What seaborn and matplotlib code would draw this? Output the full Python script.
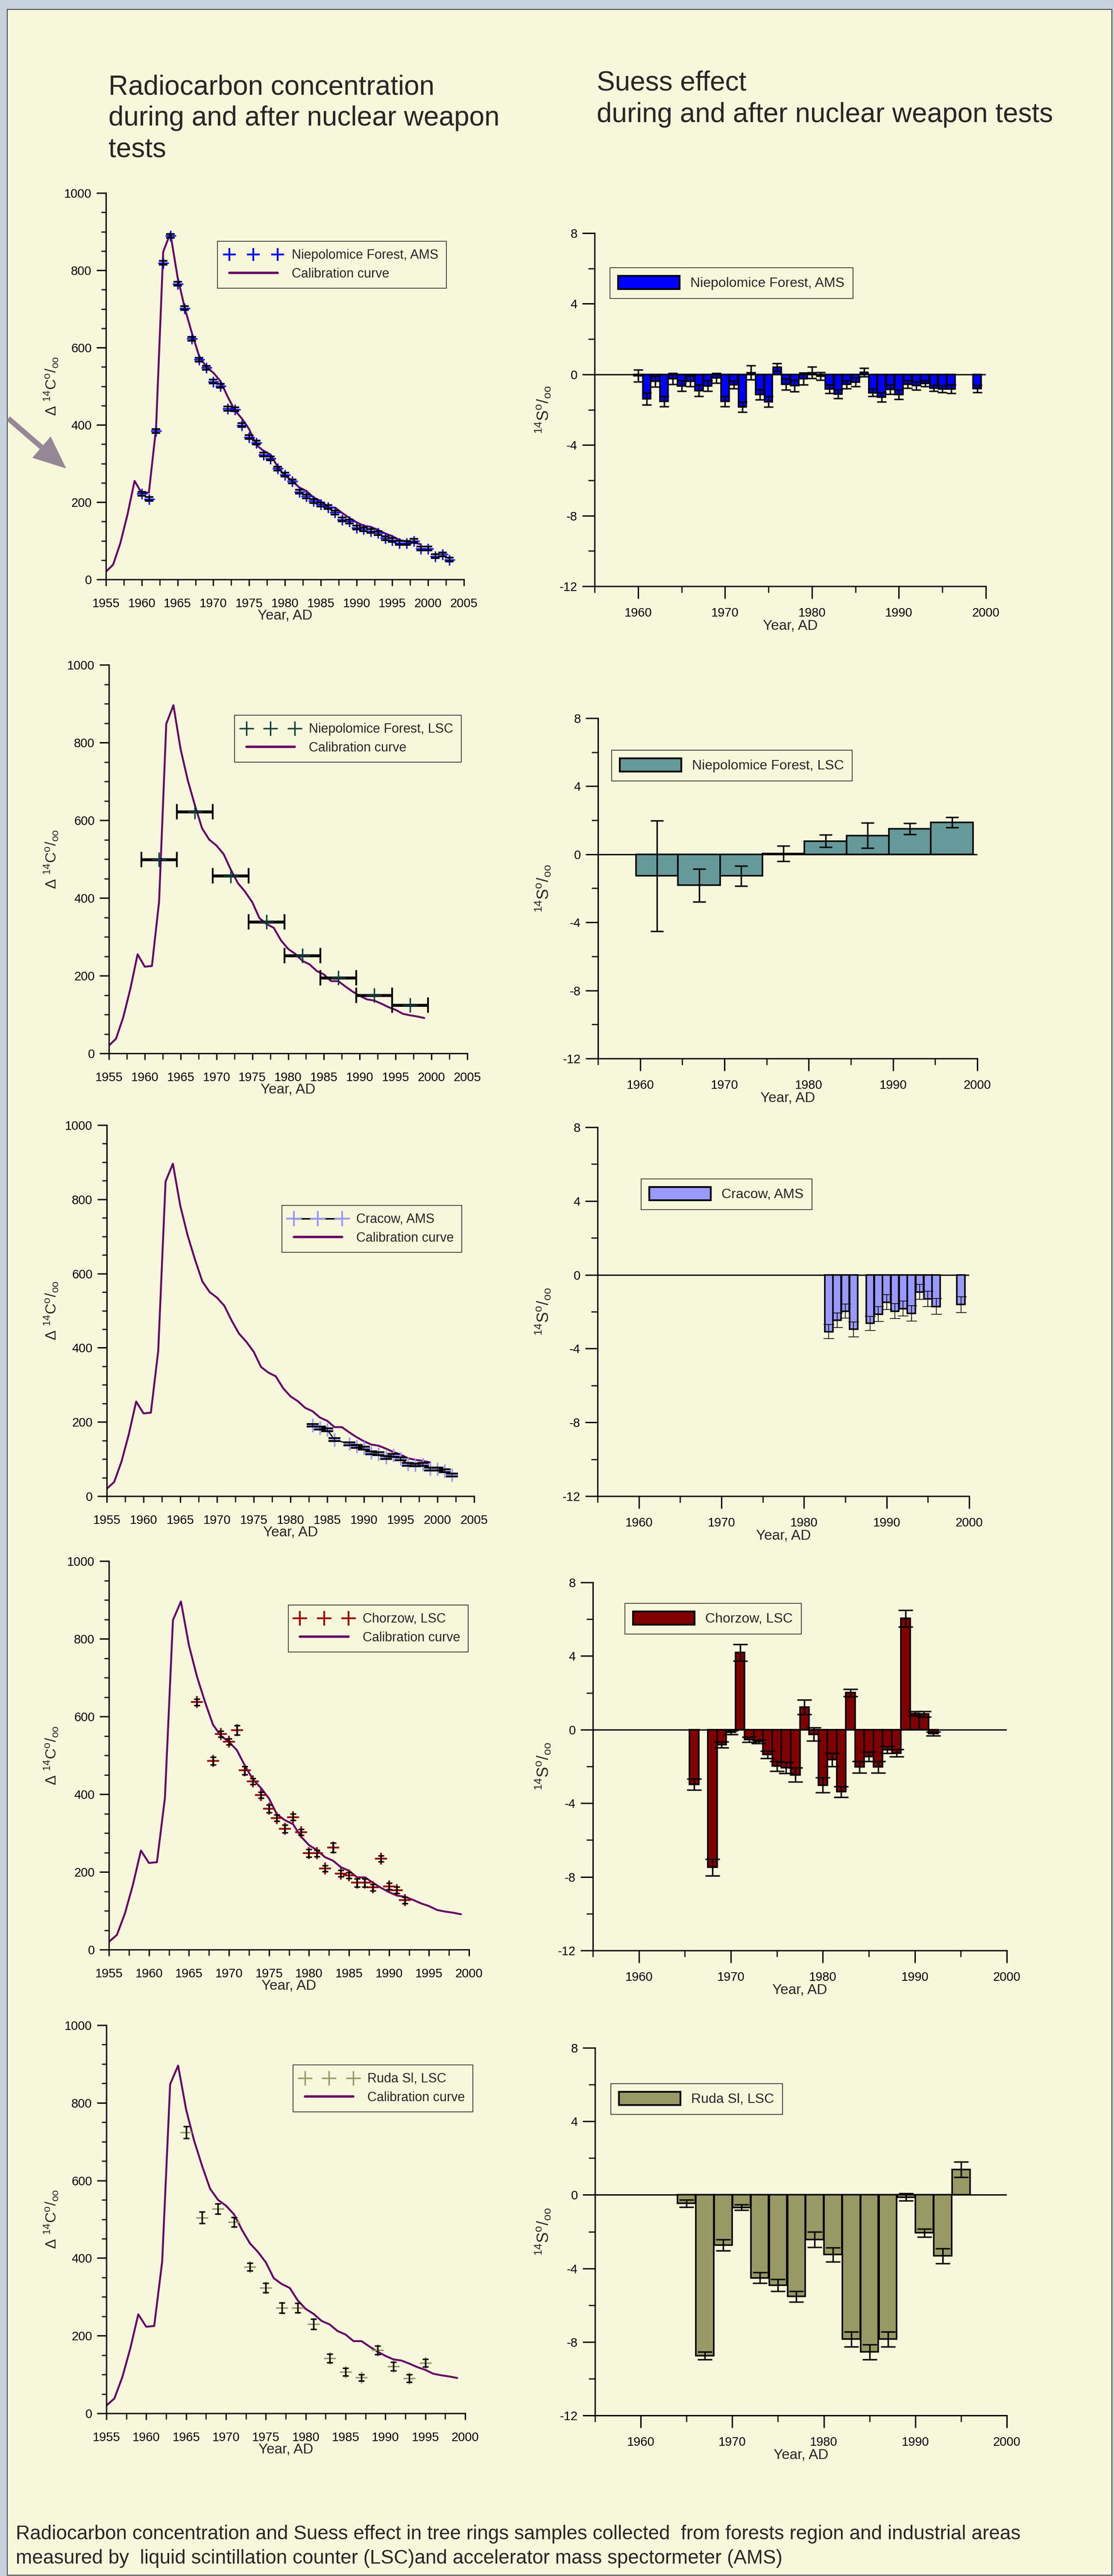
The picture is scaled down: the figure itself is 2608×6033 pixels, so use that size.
import seaborn as sns
import pandas as pd
import matplotlib
matplotlib.use('Agg')
import matplotlib.pyplot as plt
from matplotlib.lines import Line2D
from matplotlib.patches import Patch, Rectangle, FancyArrowPatch
from matplotlib.ticker import MultipleLocator, FormatStrFormatter

sns.set_style('ticks')
plt.rcParams['font.family'] = ['Liberation Sans', 'DejaVu Sans']
plt.rcParams['mathtext.fontset'] = 'custom'
plt.rcParams['mathtext.rm'] = 'Liberation Sans'
plt.rcParams['mathtext.it'] = 'Liberation Sans:italic'
plt.rcParams['mathtext.bf'] = 'Liberation Sans:bold'
plt.rcParams['axes.unicode_minus'] = False

# calibration curve (same on all left panels)
cal_years = list(range(1955, 2000))
cal_d14c = [20, 38, 93, 167, 255, 223, 225, 391, 848, 896,
            783, 703, 638, 579, 550, 535, 513, 473, 438, 416,
            389, 348, 333, 323, 291, 269, 256, 238, 229, 212,
            203, 186, 186, 172, 159, 148, 139, 136, 128, 119,
            112, 102, 98, 95, 91]

# Niepolomice Forest, AMS
ams_years = list(range(1960, 2004))
ams_d14c = [222, 208, 384, 819, 889, 765, 702, 623, 569, 548,
            512, 501, 442, 440, 399, 368, 354, 323, 313, 287,
            271, 254, 227, 215, 203, 194, 187, 173, 155, 150,
            134, 130, 125, 120, 107, 102, 94, 94, 100, 80,
            80, 60, 65, 51]
ams_err = [5, 5, 5, 5, 5, 5, 5, 5, 5, 5,
           5, 5, 5, 5, 5, 5, 5, 5, 5, 5,
           5, 5, 5, 5, 5, 5, 5, 5, 5, 5,
           5, 5, 5, 5, 5, 5, 5, 5, 5, 5,
           5, 5, 5, 5]
ams_s_years = list(range(1960, 1997)) + [1999]
ams_suess = [-0.08, -1.38, -0.40, -1.52, -0.24, -0.65, -0.38, -0.92, -0.65, -0.21,
             -1.52, -0.58, -1.84, 0.10, -1.14, -1.55, 0.40, -0.56, -0.64, -0.25,
             0.10, -0.10, -0.82, -1.11, -0.57, -0.43, 0.11, -1.04, -1.29, -0.85,
             -1.14, -0.56, -0.64, -0.51, -0.79, -0.82, -0.82, -0.81]
ams_suess_err = [0.33, 0.33, 0.31, 0.29, 0.31, 0.31, 0.31, 0.33, 0.31, 0.28,
                 0.29, 0.22, 0.29, 0.40, 0.28, 0.30, 0.22, 0.31, 0.33, 0.33,
                 0.33, 0.21, 0.24, 0.24, 0.23, 0.26, 0.24, 0.21, 0.26, 0.26,
                 0.27, 0.21, 0.23, 0.17, 0.17, 0.19, 0.24, 0.21]

# Niepolomice Forest, LSC (5-year samples)
lsc_years = [1962, 1967, 1972, 1977, 1982, 1987, 1992, 1997]
lsc_d14c = [499, 622, 457, 339, 252, 194, 150, 124]
lsc_span = [2.5, 2.5, 2.5, 2.5, 2.5, 2.5, 2.5, 2.5]
lsc_suess = [-1.27, -1.82, -1.27, 0.04, 0.78, 1.10, 1.50, 1.88]
lsc_suess_err = [3.25, 0.97, 0.58, 0.45, 0.36, 0.74, 0.32, 0.30]

# Cracow, AMS
cr_years = [1983, 1984, 1985, 1986, 1988, 1989, 1990, 1991, 1992, 1993,
            1994, 1995, 1996, 1997, 1998, 1999, 2000, 2001, 2002]
cr_d14c = [191, 184, 179, 152, 141, 134, 130, 117, 114, 104,
           110, 101, 86, 84, 86, 73, 73, 68, 57]
cr_err = [18, 18, 18, 18, 18, 18, 18, 18, 18, 18,
          18, 18, 18, 18, 18, 18, 18, 18, 18]
cr_s_years = [1983, 1984, 1985, 1986, 1988, 1989, 1990, 1991, 1992, 1993, 1994, 1995, 1996, 1999]
cr_suess = [-3.08, -2.46, -1.97, -2.96, -2.63, -2.13, -1.48, -1.97, -1.83, -2.09, -0.93, -1.30, -1.72, -1.61]
cr_suess_err = [0.38, 0.39, 0.38, 0.40, 0.38, 0.41, 0.41, 0.40, 0.40, 0.41, 0.40, 0.42, 0.43, 0.43]

# Chorzow, LSC
ch_years = [1966, 1968, 1969, 1970, 1971, 1972, 1973, 1974, 1975, 1976,
            1977, 1978, 1979, 1980, 1981, 1982, 1983, 1984, 1985, 1986,
            1987, 1988, 1989, 1990, 1991, 1992]
ch_d14c = [637, 486, 555, 535, 565, 461, 433, 398, 363, 339,
           311, 341, 302, 248, 248, 209, 263, 196, 191, 172,
           172, 160, 234, 163, 153, 127]
ch_err = [8, 10, 8, 8, 12, 10, 8, 8, 10, 8,
          10, 8, 8, 10, 8, 8, 12, 8, 8, 10,
          10, 8, 8, 8, 8, 8]
ch_suess = [-2.98, -7.48, -0.82, -0.15, 4.19, -0.54, -0.65, -1.36, -1.98, -2.06,
            -2.46, 1.23, -0.25, -3.01, -1.64, -3.38, 2.01, -2.03, -1.46, -2.03,
            -1.09, -1.27, 6.04, 0.87, 0.85, -0.22]
ch_suess_err = [0.30, 0.45, 0.17, 0.10, 0.45, 0.14, 0.10, 0.20, 0.27, 0.30,
                0.38, 0.40, 0.35, 0.41, 0.36, 0.30, 0.20, 0.32, 0.25, 0.32,
                0.18, 0.20, 0.45, 0.12, 0.15, 0.10]

# Ruda Sl, LSC (2-year samples)
ru_years = [1965, 1967, 1969, 1971, 1973, 1975, 1977, 1979,
            1981, 1983, 1985, 1987, 1989, 1991, 1993, 1995]
ru_d14c = [724, 504, 527, 493, 377, 323, 272, 272, 230, 142, 107, 92, 163, 121, 90, 130]
ru_err = [15, 15, 13, 12, 10, 12, 13, 12, 13, 11, 10, 8, 11, 11, 10, 10]
ru_suess = [-0.46, -8.75, -2.73, -0.68, -4.51, -4.91, -5.53, -2.42,
            -3.25, -7.85, -8.55, -7.85, -0.12, -2.06, -3.32, 1.38]
ru_suess_err = [0.20, 0.20, 0.30, 0.15, 0.30, 0.32, 0.29, 0.42,
                0.39, 0.41, 0.41, 0.41, 0.20, 0.22, 0.41, 0.42]

W, H = 2608, 6033
CREAM = '#F7F7DB'
CAL = '#660066'
LW = 2.3

fig = plt.figure(figsize=(W / 100, H / 100), dpi=100)
fig.patch.set_facecolor('#C7D2DF')
fig.add_artist(Rectangle((17 / W, 1 - 6031 / H), (2603 - 17) / W, (6031 - 22) / H,
                         transform=fig.transFigure, facecolor=CREAM, edgecolor='#444444',
                         lw=1.5, zorder=-10))


def box(x0, x1, ytop, ybot):
    ax = fig.add_axes([x0 / W, 1 - ybot / H, (x1 - x0) / W, (ybot - ytop) / H])
    ax.set_facecolor('none')
    return ax


def legend_at(ax, handles, labels, x, y, fs, hl, hh=0.7):
    leg = ax.legend(handles, labels, loc='upper left', bbox_to_anchor=(x / W, 1 - y / H),
                    bbox_transform=fig.transFigure, fontsize=fs, numpoints=3,
                    handlelength=hl, handleheight=hh, frameon=True, fancybox=False,
                    edgecolor='#222222', facecolor=CREAM, framealpha=1,
                    borderpad=0.6, labelspacing=0.45, handletextpad=0.8, borderaxespad=0)
    leg.get_frame().set_linewidth(1.2)


def style_left(ax, pos, xmax):
    x0, x1, ytop, ybot = pos
    sns.despine(ax=ax)
    ax.set_xlim(1955, xmax)
    ax.set_ylim(0, 1000)
    ax.xaxis.set_major_locator(MultipleLocator(5))
    ax.xaxis.set_minor_locator(MultipleLocator(2.5))
    ax.yaxis.set_major_locator(MultipleLocator(200))
    ax.yaxis.set_minor_locator(MultipleLocator(50))
    ax.xaxis.set_major_formatter(FormatStrFormatter('%d'))
    for s in ['left', 'bottom']:
        ax.spines[s].set_linewidth(LW)
        ax.spines[s].set_color('black')
    ax.tick_params(axis='y', which='major', length=16, width=LW, pad=8, labelsize=21, colors='black')
    ax.tick_params(axis='y', which='minor', length=8, width=LW)
    ax.tick_params(axis='x', which='major', length=11, width=LW, pad=20, labelsize=21, colors='black')
    ax.tick_params(axis='x', which='minor', length=10, width=LW)
    ax.set_ylabel(r'$\Delta\ {}^{14}\mathrm{C}^{\mathrm{o}}/_{\mathrm{oo}}$', fontsize=25)
    ax.yaxis.label.set_verticalalignment('center')
    ax.yaxis.set_label_coords((120 - x0) / (x1 - x0), 0.5)
    ax.set_xlabel('Year, AD', fontsize=24)
    ax.xaxis.label.set_verticalalignment('center')
    ax.xaxis.set_label_coords(0.5, -85 / (ybot - ytop))


def style_right(ax, pos):
    x0, x1, ytop, ybot = pos
    sns.despine(ax=ax)
    ax.set_xlim(1955, 2000)
    ax.set_ylim(-12, 8)
    ax.xaxis.set_major_locator(MultipleLocator(10))
    ax.xaxis.set_minor_locator(MultipleLocator(5))
    ax.yaxis.set_major_locator(MultipleLocator(4))
    ax.yaxis.set_minor_locator(MultipleLocator(2))
    ax.xaxis.set_major_formatter(FormatStrFormatter('%d'))
    ax.yaxis.set_major_formatter(FormatStrFormatter('%d'))
    for s in ['left', 'bottom']:
        ax.spines[s].set_linewidth(LW)
        ax.spines[s].set_color('black')
    ax.tick_params(axis='both', which='major', length=21, width=LW, pad=8, labelsize=21, colors='black')
    ax.tick_params(axis='x', which='major', pad=14)
    ax.tick_params(axis='both', which='minor', length=11, width=LW)
    ax.axhline(0, color='black', lw=LW, zorder=1)
    ax.set_ylabel(r'${}^{14}\mathrm{S}^{\mathrm{o}}/_{\mathrm{oo}}$', fontsize=27)
    ax.yaxis.label.set_verticalalignment('center')
    ax.yaxis.set_label_coords((1271 - x0) / (x1 - x0), 0.5)
    ax.set_xlabel('Year, AD', fontsize=24)
    ax.xaxis.label.set_verticalalignment('center')
    ax.xaxis.set_label_coords(0.5, -93 / (ybot - ytop))


def suess_bars(ax, years, vals, errs, color, width, elw=2.5, cap=8):
    sns.barplot(x=years, y=vals, native_scale=True, color=color, saturation=1,
                edgecolor='black', linewidth=2.6, width=width, errorbar=None, ax=ax, zorder=2)
    ax.errorbar(years, vals, yerr=errs, fmt='none', ecolor='black', elinewidth=elw,
                capsize=cap, capthick=elw, zorder=3)


cal_handle = Line2D([], [], color=CAL, lw=4)

# ---------- row 1: Niepolomice Forest, AMS ----------
pos = (248, 1086, 452, 1357)
ax = box(*pos)
sns.lineplot(x=cal_years, y=cal_d14c, color=CAL, lw=3.2, ax=ax, zorder=2)
ax.plot(ams_years, ams_d14c, ls='none', marker='+', ms=18, mew=2.5, color='#0000FF', zorder=3)
ax.errorbar(ams_years, ams_d14c, yerr=ams_err, fmt='none', ecolor='black',
            elinewidth=2.5, capsize=7, capthick=3, zorder=4)
style_left(ax, pos, 2005)
legend_at(ax, [Line2D([], [], ls='none', marker='+', ms=22, mew=3, color='#0000FF'), cal_handle],
          ['Niepolomice Forest, AMS', 'Calibration curve'], 509, 565, 22, 4.3)

pos = (1392, 2308, 546, 1373)
ax = box(*pos)
suess_bars(ax, ams_s_years, ams_suess, ams_suess_err, '#0000FF', 0.92, cap=8)
style_right(ax, pos)
legend_at(ax, [Patch(facecolor='#0000FF', edgecolor='black', lw=3)],
          ['Niepolomice Forest, AMS'], 1428, 627, 23, 4.5, 1.1)

# ---------- row 2: Niepolomice Forest, LSC ----------
pos = (255, 1094, 1557, 2467)
ax = box(*pos)
sns.lineplot(x=cal_years, y=cal_d14c, color=CAL, lw=3.2, ax=ax, zorder=2)
ax.errorbar(lsc_years, lsc_d14c, xerr=lsc_span, fmt='none', ecolor='black',
            elinewidth=5, capsize=13, capthick=3, zorder=3)
ax.plot(lsc_years, lsc_d14c, ls='none', marker='+', ms=24, mew=2.5, color='#0B4040', zorder=4)
style_left(ax, pos, 2005)
legend_at(ax, [Line2D([], [], ls='none', marker='+', ms=24, mew=2.5, color='#0B4040'), cal_handle],
          ['Niepolomice Forest, LSC', 'Calibration curve'], 549, 1675, 22, 4.3)

pos = (1400, 2288, 1682, 2479)
ax = box(*pos)
suess_bars(ax, lsc_years, lsc_suess, lsc_suess_err, '#669999', 1.0, cap=11)
style_right(ax, pos)
legend_at(ax, [Patch(facecolor='#669999', edgecolor='black', lw=3)],
          ['Niepolomice Forest, LSC'], 1432, 1757, 23, 4.5, 1.1)

# ---------- row 3: Cracow, AMS ----------
pos = (250, 1110, 2635, 3504)
ax = box(*pos)
sns.lineplot(x=cal_years, y=cal_d14c, color=CAL, lw=3.2, ax=ax, zorder=2)
ax.plot(cr_years, cr_d14c, color='black', lw=2, zorder=3)
ax.errorbar(cr_years, cr_d14c, yerr=cr_err, fmt='none', ecolor='#9999FF', elinewidth=2.5, zorder=3)
ax.plot(cr_years, cr_d14c, ls='none', marker='+', ms=20, mew=2.5, color='#9999FF', zorder=3)
ax.errorbar(cr_years, cr_d14c, yerr=4, fmt='none', ecolor='black', elinewidth=1.5,
            capsize=10, capthick=3, zorder=4)
style_left(ax, pos, 2005)
legend_at(ax, [Line2D([], [], color='black', lw=2.5, marker='+', ms=26, mew=3,
                      markeredgecolor='#9999FF'), cal_handle],
          ['Cracow, AMS', 'Calibration curve'], 660, 2823, 22, 4.3)

pos = (1399, 2269, 2640, 3504)
ax = box(*pos)
suess_bars(ax, cr_s_years, cr_suess, cr_suess_err, '#9999FF', 0.95, elw=1.2, cap=9)
style_right(ax, pos)
legend_at(ax, [Patch(facecolor='#9999FF', edgecolor='black', lw=3)],
          ['Cracow, AMS'], 1501, 2761, 23, 4.5, 1.1)

# ---------- row 4: Chorzow, LSC ----------
pos = (255, 1098, 3656, 4566)
ax = box(*pos)
sns.lineplot(x=cal_years, y=cal_d14c, color=CAL, lw=3.2, ax=ax, zorder=2)
ax.plot(ch_years, ch_d14c, ls='none', marker='+', ms=20, mew=3, color='#990000', zorder=3)
ax.errorbar(ch_years, ch_d14c, yerr=ch_err, fmt='none', ecolor='black', elinewidth=2.5,
            capsize=5, capthick=2.5, zorder=4)
style_left(ax, pos, 2000)
legend_at(ax, [Line2D([], [], ls='none', marker='+', ms=24, mew=3, color='#990000'), cal_handle],
          ['Chorzow, LSC', 'Calibration curve'], 675, 3759, 22, 4.3)

pos = (1388, 2357, 3706, 4568)
ax = box(*pos)
suess_bars(ax, ch_years, ch_suess, ch_suess_err, '#800000', 1.0, cap=12)
style_right(ax, pos)
legend_at(ax, [Patch(facecolor='#800000', edgecolor='black', lw=3)],
          ['Chorzow, LSC'], 1463, 3755, 23, 4.5, 1.1)

# ---------- row 5: Ruda Sl, LSC ----------
pos = (249, 1089, 4743, 5652)
ax = box(*pos)
sns.lineplot(x=cal_years, y=cal_d14c, color=CAL, lw=3.2, ax=ax, zorder=2)
ax.plot(ru_years, ru_d14c, ls='none', marker='+', ms=20, mew=2.5, color='#999966', zorder=3)
ax.errorbar(ru_years, ru_d14c, yerr=ru_err, fmt='none', ecolor='black', elinewidth=2.5,
            capsize=5, capthick=2.5, zorder=4)
style_left(ax, pos, 2000)
legend_at(ax, [Line2D([], [], ls='none', marker='+', ms=24, mew=2.5, color='#999966'), cal_handle],
          ['Ruda Sl, LSC', 'Calibration curve'], 686, 4836, 22, 4.3)

pos = (1393, 2357, 4796, 5657)
ax = box(*pos)
suess_bars(ax, ru_years, ru_suess, ru_suess_err, '#999966', 0.97, cap=12)
style_right(ax, pos)
legend_at(ax, [Patch(facecolor='#999966', edgecolor='black', lw=3)],
          ['Ruda Sl, LSC'], 1430, 4880, 23, 4.5, 1.1)

# ---------- titles, caption, arrow ----------
fig.text(254 / W, 1 - 205 / H, 'Radiocarbon concentration', fontsize=46, va='center')
fig.text(254 / W, 1 - 277 / H, 'during and after nuclear weapon', fontsize=46, va='center')
fig.text(254 / W, 1 - 350 / H, 'tests', fontsize=46, va='center')
fig.text(1397 / W, 1 - 195 / H, 'Suess effect', fontsize=46, va='center')
fig.text(1397 / W, 1 - 269 / H, 'during and after nuclear weapon tests', fontsize=46, va='center')

fig.text(37 / W, 1 - 5935 / H,
         'Radiocarbon concentration and Suess effect in tree rings samples collected  from forests region and industrial areas',
         fontsize=33, va='center')
fig.text(37 / W, 1 - 5992 / H,
         'measured by  liquid scintillation counter (LSC)and accelerator mass spectormeter (AMS)',
         fontsize=33, va='center')

fig.add_artist(FancyArrowPatch((17 / W, 1 - 978 / H), (157 / W, 1 - 1099 / H),
                               transform=fig.transFigure,
                               arrowstyle='simple,head_length=2.2,head_width=1.9,tail_width=0.35',
                               mutation_scale=25, color='#968796', lw=0))

plt.savefig('out.png', dpi=100, facecolor=fig.get_facecolor())
